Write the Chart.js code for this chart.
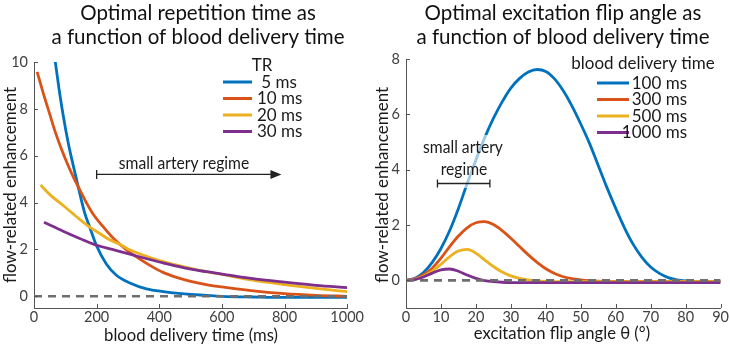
<!DOCTYPE html>
<html><head><meta charset="utf-8">
<script src="https://cdn.jsdelivr.net/npm/chart.js@4/dist/chart.umd.min.js"></script>
<style>
html,body{margin:0;padding:0;background:#fff;}
#wrap{position:relative;width:730px;height:347px;overflow:hidden;background:#fff;}
canvas{position:absolute;top:0;}
</style></head><body>
<div id="wrap"><canvas id="c1" width="365" height="347" style="left:0"></canvas><canvas id="c2" width="365" height="347" style="left:365px"></canvas></div>
<script>
// ---------- shared ----------
const seriesColors = ['#0072BD', '#D95319', '#EDB120', '#7E2F8E'];
const yAxisLabel = 'flow-related enhancement';

// ---------- left panel data ----------
const leftTitle = ['Optimal repetition time as', 'a function of blood delivery time'];
const leftXLabel = 'blood delivery time (ms)';
const leftLegendTitle = 'TR';
const leftSeriesNames = [' 5 ms', '10 ms', '20 ms', '30 ms'];
const leftXTicks = [0, 200, 400, 600, 800, 1000];
const leftYTicks = [0, 2, 4, 6, 8, 10];
const leftAnnotationText = 'small artery regime';

const tr5Time = [67, 80, 93, 110, 125, 141, 162, 178, 200, 231, 263, 306, 359, 412, 481, 550, 600, 700, 800, 900, 1000];
const tr5Value = [10.1, 8.85, 7.74, 6.5, 5.6, 4.68, 3.55, 2.95, 2.15, 1.38, 0.9, 0.57, 0.32, 0.2, 0.1, 0.04, 0.0, -0.03, -0.05, -0.05, -0.05];

const tr10Time = [10, 30, 51, 70, 90, 110, 125, 141, 165, 189, 220, 250, 274, 300, 327, 370, 412, 450, 497, 550, 600, 693, 800, 900, 1000];
const tr10Value = [9.58, 8.65, 7.74, 6.93, 6.2, 5.55, 5.11, 4.68, 4.05, 3.5, 2.98, 2.52, 2.22, 1.93, 1.68, 1.32, 1.02, 0.83, 0.65, 0.5, 0.4, 0.24, 0.11, 0.04, 0.0];

const tr20Time = [21, 50, 100, 146, 178, 210, 240, 274, 300, 350, 412, 450, 497, 550, 600, 693, 800, 900, 1000];
const tr20Value = [4.75, 4.35, 3.8, 3.28, 2.95, 2.68, 2.42, 2.22, 2.02, 1.75, 1.48, 1.35, 1.2, 1.05, 0.93, 0.7, 0.5, 0.34, 0.2];

const tr30Time = [32, 93, 146, 200, 250, 300, 327, 370, 412, 497, 550, 600, 693, 800, 900, 1000];
const tr30Value = [3.16, 2.78, 2.47, 2.18, 2.0, 1.82, 1.72, 1.57, 1.43, 1.17, 1.05, 0.95, 0.76, 0.6, 0.47, 0.37];

const leftZeroLine = [[0, 0], [1000, 0]];
// arrow annotation in data units: from 200 ms to 790 ms at y = 5.2
const leftArrow = { from: 200, to: 790, y: 5.2 };

// ---------- right panel data ----------
const rightTitle = ['Optimal excitation flip angle as', 'a function of blood delivery time'];
const rightXLabel = 'excitation flip angle \u03B8 (\u00B0)';
const rightLegendTitle = 'blood delivery time';
const rightSeriesNames = ['100 ms', '300 ms', '500 ms', '1000 ms'];
const rightXTicks = [0, 10, 20, 30, 40, 50, 60, 70, 80, 90];
const rightYTicks = [0, 2, 4, 6, 8];
const rightAnnotationText = ['small artery', 'regime'];

const flipAngle = [0, 2.5, 5, 7.5, 10, 12.5, 15, 17.5, 20, 22.5, 25, 27.5, 30, 32.5, 35, 37.5, 40, 42.5, 45, 47.5, 50, 52.5, 55, 57.5, 60, 62.5, 65, 67.5, 70, 72.5, 75, 77.5, 80, 82.5, 85, 87.5, 90];
const bdt100 = [0, 0.07, 0.28, 0.65, 1.15, 1.8, 2.6, 3.5, 4.35, 5.15, 5.85, 6.45, 6.95, 7.3, 7.53, 7.62, 7.55, 7.28, 6.85, 6.3, 5.65, 4.95, 4.15, 3.35, 2.6, 1.9, 1.3, 0.83, 0.48, 0.25, 0.1, 0.02, -0.02, -0.04, -0.05, -0.05, -0.05];
const bdt300 = [0, 0.05, 0.2, 0.44, 0.8, 1.22, 1.6, 1.9, 2.08, 2.12, 2.02, 1.8, 1.52, 1.22, 0.92, 0.65, 0.42, 0.25, 0.13, 0.06, 0.02, -0.01, -0.03, -0.04, -0.04, -0.04, -0.04, -0.04, -0.04, -0.04, -0.04, -0.04, -0.04, -0.04, -0.04, -0.04, -0.04];
const bdt500 = [0, 0.04, 0.15, 0.33, 0.58, 0.86, 1.06, 1.12, 0.98, 0.74, 0.5, 0.3, 0.16, 0.07, 0.02, -0.02, -0.04, -0.05, -0.05, -0.05, -0.05, -0.05, -0.05, -0.05, -0.05, -0.05, -0.05, -0.05, -0.05, -0.05, -0.05, -0.05, -0.05, -0.05, -0.05, -0.05, -0.05];
const bdt1000 = [0, 0.03, 0.12, 0.26, 0.38, 0.41, 0.33, 0.19, 0.07, -0.01, -0.05, -0.07, -0.08, -0.08, -0.08, -0.08, -0.08, -0.08, -0.08, -0.08, -0.08, -0.08, -0.08, -0.08, -0.08, -0.08, -0.08, -0.08, -0.08, -0.08, -0.08, -0.08, -0.08, -0.08, -0.08, -0.08, -0.08];
const rightZeroLine = [[0, 0], [90, 0]];
// bar annotation in data units: from 9 deg to 24 deg at y = 3.5
const rightBar = { from: 9, to: 24, y: 3.5 };

// ---------- helpers ----------
const FONT = 'Lato, "Open Sans", sans-serif';
const pts = (xs, ys) => xs.map((x, i) => ({ x: x, y: ys[i] }));
const pairs = (arr) => arr.map(p => ({ x: p[0], y: p[1] }));

function lineDs(label, data, color, order) {
  return { label, data, borderColor: color, backgroundColor: color, borderWidth: 2.8,
    pointRadius: 0, fill: false, cubicInterpolationMode: 'monotone', order };
}
function zeroDs(data) {
  return { label: 'zero', data, borderColor: '#6e6e6e', borderWidth: 2.6, borderDash: [8, 6],
    pointRadius: 0, fill: false, order: 0 };
}
function text(ctx, s, x, y, size, color, align, sx) {
  ctx.save();
  ctx.font = size + 'px ' + FONT;
  ctx.fillStyle = color; ctx.textAlign = align || 'center'; ctx.textBaseline = 'middle';
  ctx.translate(x, y); ctx.scale(sx || 1, 1);
  ctx.fillText(s, 0, 0);
  ctx.restore();
}
function drawInwardTicks(chart, xTicks, yTicks) {
  const ctx = chart.ctx, xs = chart.scales.x, ys = chart.scales.y, a = chart.chartArea;
  ctx.save(); ctx.strokeStyle = '#555'; ctx.lineWidth = 1;
  ctx.beginPath();
  xTicks.forEach(v => { const p = Math.round(xs.getPixelForValue(v)) + 0.5; ctx.moveTo(p, a.bottom); ctx.lineTo(p, a.bottom - 4); });
  yTicks.forEach(v => { const p = Math.round(ys.getPixelForValue(v)) + 0.5; ctx.moveTo(a.left, p); ctx.lineTo(a.left + 4, p); });
  ctx.stroke(); ctx.restore();
}
function scaleOpts(min, max, ticks, fitProp, fitVal, pad) {
  return {
    type: 'linear', min, max,
    afterBuildTicks: s => { s.ticks = ticks.map(v => ({ value: v })); },
    afterFit: s => { s[fitProp] = fitVal; },
    grid: { display: false, drawTicks: false },
    border: { display: true, color: '#555', width: 1 },
    ticks: { padding: pad, color: '#404040', font: { family: FONT, size: 14.5 }, maxRotation: 0, autoSkip: false,
      callback: v => String(v) }
  };
}

// ---------- left chart ----------
const leftPlugin = {
  id: 'leftDecor',
  afterDatasetsDraw(chart) {
    const ctx = chart.ctx, xs = chart.scales.x, ys = chart.scales.y;
    const x0 = xs.getPixelForValue(leftArrow.from), x1 = xs.getPixelForValue(leftArrow.to), y = ys.getPixelForValue(leftArrow.y);
    ctx.save(); ctx.strokeStyle = '#222'; ctx.fillStyle = '#222'; ctx.lineWidth = 1.3;
    ctx.beginPath(); ctx.moveTo(x0, y); ctx.lineTo(x1 - 8, y); ctx.moveTo(x0, y - 4.5); ctx.lineTo(x0, y + 4.5); ctx.stroke();
    ctx.beginPath(); ctx.moveTo(x1, y); ctx.lineTo(x1 - 11, y - 4.5); ctx.lineTo(x1 - 11, y + 4.5); ctx.closePath(); ctx.fill();
    ctx.restore();
    text(ctx, leftAnnotationText, 184, 164, 17, '#1a1a1a', 'center', 0.92);
    text(ctx, leftLegendTitle, 262, 66, 17, '#1a1a1a', 'center');
    const ly = [82, 98.5, 115, 131.5];
    chart.data.datasets.filter(d => d.label !== 'zero').sort((a, b) => a.idx - b.idx).forEach((d, i) => {
      ctx.save(); ctx.strokeStyle = d.borderColor; ctx.lineWidth = 3;
      ctx.beginPath(); ctx.moveTo(223, ly[i]); ctx.lineTo(252, ly[i]); ctx.stroke(); ctx.restore();
      text(ctx, leftSeriesNames[i], 257, ly[i] + 0.5, 17, '#1a1a1a', 'left');
    });
  },
  afterDraw(chart) {
    const ctx = chart.ctx;
    drawInwardTicks(chart, leftXTicks, leftYTicks);
    text(ctx, leftTitle[0], 198, 13, 20.5, '#111', 'center');
    text(ctx, leftTitle[1], 198, 37, 20.5, '#111', 'center');
    text(ctx, leftXLabel, 191, 335, 17.5, '#1a1a1a', 'center', 0.95);
    ctx.save(); ctx.translate(10, 185); ctx.rotate(-Math.PI / 2);
    text(ctx, yAxisLabel, 0, 0, 17.5, '#1a1a1a', 'center', 0.97); ctx.restore();
  }
};

const leftSets = [
  Object.assign(lineDs('5 ms', pts(tr5Time, tr5Value), seriesColors[0], 4), { idx: 0 }),
  Object.assign(lineDs('10 ms', pts(tr10Time, tr10Value), seriesColors[1], 3), { idx: 1 }),
  Object.assign(lineDs('20 ms', pts(tr20Time, tr20Value), seriesColors[2], 2), { idx: 2 }),
  Object.assign(lineDs('30 ms', pts(tr30Time, tr30Value), seriesColors[3], 1), { idx: 3 }),
  zeroDs(pairs(leftZeroLine))
];

new Chart(document.getElementById('c1'), {
  type: 'line',
  data: { datasets: leftSets },
  options: {
    responsive: false, animation: false, devicePixelRatio: 1,
    layout: { padding: { left: 0, right: 17, top: 62, bottom: 0 } },
    plugins: { legend: { display: false }, title: { display: false }, tooltip: { enabled: false } },
    scales: {
      x: scaleOpts(0, 1000, leftXTicks, 'height', 39, 1),
      y: scaleOpts(-0.5, 10, leftYTicks, 'width', 34, 6)
    }
  },
  plugins: [leftPlugin]
});

// ---------- right chart ----------
const rightPlugin = {
  id: 'rightDecor',
  afterDatasetsDraw(chart) {
    const ctx = chart.ctx, xs = chart.scales.x, ys = chart.scales.y;
    ctx.save(); ctx.fillStyle = 'rgba(255,255,255,0.62)'; ctx.fillRect(50, 135, 96, 53); ctx.restore();
    text(ctx, rightAnnotationText[0], 98, 148, 17, '#1a1a1a', 'center', 0.92);
    text(ctx, rightAnnotationText[1], 99, 170, 17, '#1a1a1a', 'center', 0.92);
    const x0 = xs.getPixelForValue(rightBar.from), x1 = xs.getPixelForValue(rightBar.to), y = ys.getPixelForValue(rightBar.y);
    ctx.save(); ctx.strokeStyle = '#222'; ctx.lineWidth = 1.3;
    ctx.beginPath(); ctx.moveTo(x0, y); ctx.lineTo(x1, y);
    ctx.moveTo(x0, y - 4); ctx.lineTo(x0, y + 4); ctx.moveTo(x1, y - 4); ctx.lineTo(x1, y + 4); ctx.stroke(); ctx.restore();
    text(ctx, rightLegendTitle, 278, 64, 17, '#1a1a1a', 'center');
    const ly = [83, 99.5, 116, 132.5];
    chart.data.datasets.filter(d => d.label !== 'zero').sort((a, b) => a.idx - b.idx).forEach((d, i) => {
      ctx.save(); ctx.strokeStyle = d.borderColor; ctx.lineWidth = 3;
      ctx.beginPath(); ctx.moveTo(232, ly[i]); ctx.lineTo(264, ly[i]); ctx.stroke(); ctx.restore();
      text(ctx, rightSeriesNames[i], 322, ly[i] + 0.5, 17, '#1a1a1a', 'right');
    });
  },
  afterDraw(chart) {
    const ctx = chart.ctx;
    drawInwardTicks(chart, rightXTicks, rightYTicks);
    text(ctx, rightTitle[0], 198, 13, 20.5, '#111', 'center');
    text(ctx, rightTitle[1], 198, 37, 20.5, '#111', 'center');
    text(ctx, rightXLabel, 197, 333, 17.5, '#1a1a1a', 'center', 0.95);
    ctx.save(); ctx.translate(17, 185); ctx.rotate(-Math.PI / 2);
    text(ctx, yAxisLabel, 0, 0, 17.5, '#1a1a1a', 'center', 0.97); ctx.restore();
  }
};

const rightSets = [
  Object.assign(lineDs('100 ms', pts(flipAngle, bdt100), seriesColors[0], 4), { idx: 0 }),
  Object.assign(lineDs('300 ms', pts(flipAngle, bdt300), seriesColors[1], 3), { idx: 1 }),
  Object.assign(lineDs('500 ms', pts(flipAngle, bdt500), seriesColors[2], 2), { idx: 2 }),
  Object.assign(lineDs('1000 ms', pts(flipAngle, bdt1000), seriesColors[3], 1), { idx: 3 }),
  zeroDs(pairs(rightZeroLine))
];

new Chart(document.getElementById('c2'), {
  type: 'line',
  data: { datasets: rightSets },
  options: {
    responsive: false, animation: false, devicePixelRatio: 1,
    layout: { padding: { left: 0, right: 8, top: 59, bottom: 0 } },
    plugins: { legend: { display: false }, title: { display: false }, tooltip: { enabled: false } },
    scales: {
      x: scaleOpts(0, 90, rightXTicks, 'height', 39, 1),
      y: scaleOpts(-1, 8, rightYTicks, 'width', 41, 6)
    }
  },
  plugins: [rightPlugin]
});
</script>
</body></html>
